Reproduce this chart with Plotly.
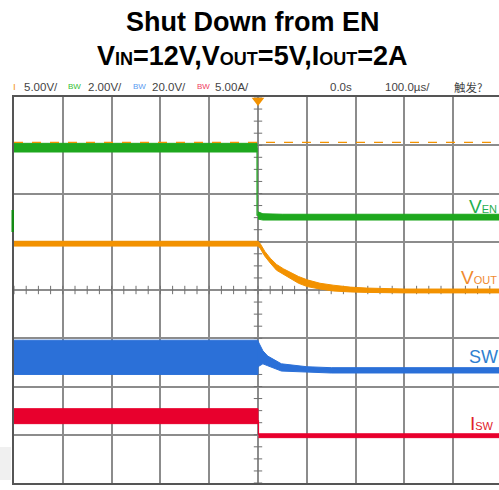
import numpy as np
import plotly.graph_objects as go

# ---------------- data (screen divisions; time 100us/div, trigger at t=0) ----------------
# V_EN (green)
EN_PRE_T = [-5.0, -0.02]
EN_PRE_UP = [3.04, 3.04]
EN_PRE_LO = [2.86, 2.86]
EN_EDGE_T = [-0.02, -0.02, 0.0]
EN_EDGE_V = [2.95, 1.55, 1.55]
EN_POST_T = [0.0, 0.1, 0.5, 1.0, 4.94]
EN_POST_UP = [1.62, 1.58, 1.57, 1.57, 1.57]
EN_POST_LO = [1.47, 1.45, 1.45, 1.45, 1.45]

# V_OUT (orange)
VOUT_T = [-5.0, 0.0, 0.04, 0.14, 0.25, 0.38, 0.52, 0.66, 0.83, 1.01, 1.27, 1.54, 1.89, 2.23, 2.56, 3.0, 4.94]
VOUT_UP = [1.01, 1.01, 0.97, 0.80, 0.66, 0.53, 0.44, 0.36, 0.28, 0.21, 0.14, 0.10, 0.06, 0.04, 0.03, 0.02, 0.02]
VOUT_LO = [0.91, 0.91, 0.87, 0.70, 0.56, 0.41, 0.32, 0.24, 0.14, 0.07, 0.02, -0.02, -0.04, -0.05, -0.06, -0.06, -0.06]

# trigger level (orange dashed)
TRIG_LEVEL = 3.06

# SW (blue)
SW_PRE_T = [-5.0, 0.0]
SW_PRE_UP = [-1.04, -1.04]
SW_PRE_LO = [-1.75, -1.75]
SW_POST_T = [0.0, 0.1, 0.2, 0.48, 1.0, 1.5, 4.94]
SW_POST_UP = [-1.06, -1.26, -1.37, -1.53, -1.59, -1.61, -1.61]
SW_POST_LO = [-1.59, -1.53, -1.57, -1.68, -1.70, -1.72, -1.72]

# I_SW (red)
ISW_PRE_T = [-5.0, 0.0]
ISW_PRE_UP = [-2.46, -2.46]
ISW_PRE_LO = [-2.77, -2.77]
ISW_EDGE_T = [0.01, 0.01]
ISW_EDGE_V = [-2.7, -3.0]
ISW_POST_T = [0.01, 4.94]
ISW_POST_UP = [-2.98, -2.98]
ISW_POST_LO = [-3.06, -3.06]

HEADER_LABELS = ["5.00V/", "2.00V/", "20.0V/", "5.00A/", "0.0s", "100.0\u00b5s/", "触发?"]

GREEN = "#1ea81e"
ORANGE = "#f39200"
BLUE = "#2b70d8"
RED = "#e8002d"

W, H = 499, 490
L, T, B = 14, 97, 483
R = 499
XR = [-5.0, -5.0 + (R - L) / 48.8]


def px(x, y):
    return (x - L) / (R - L), (B - y) / (B - T)


fig = go.Figure()


def band(t, up, lo, color):
    xs = list(t) + list(t)[::-1]
    ys = list(up) + list(lo)[::-1]
    fig.add_trace(go.Scatter(x=xs, y=ys, fill="toself", fillcolor=color, mode="lines",
                             line=dict(color=color, width=1), hoverinfo="skip", showlegend=False))


def line(t, v, color, width=1.2, dash=None):
    fig.add_trace(go.Scatter(x=t, y=v, mode="lines", line=dict(color=color, width=width, dash=dash),
                             hoverinfo="skip", showlegend=False))


# center crosshair minor ticks
tx = np.arange(-5, 5.01, 0.25)
fig.add_trace(go.Scatter(x=tx, y=np.zeros_like(tx), mode="markers",
                         marker=dict(symbol="line-ns", size=6, line=dict(color="#707070", width=1)),
                         hoverinfo="skip", showlegend=False))
ty = np.arange(-4, 4.01, 0.25)
fig.add_trace(go.Scatter(x=np.zeros_like(ty), y=ty, mode="markers",
                         marker=dict(symbol="line-ew", size=6, line=dict(color="#707070", width=1)),
                         hoverinfo="skip", showlegend=False))

# traces
band(EN_PRE_T, EN_PRE_UP, EN_PRE_LO, GREEN)
line(EN_EDGE_T, EN_EDGE_V, GREEN, 1.2)
band(EN_POST_T, EN_POST_UP, EN_POST_LO, GREEN)
line([XR[0], XR[1]], [TRIG_LEVEL, TRIG_LEVEL], ORANGE, 1.2, "dash")
band(VOUT_T, VOUT_UP, VOUT_LO, ORANGE)
band(SW_PRE_T, SW_PRE_UP, SW_PRE_LO, BLUE)
band(SW_POST_T, SW_POST_UP, SW_POST_LO, BLUE)
band(ISW_PRE_T, ISW_PRE_UP, ISW_PRE_LO, RED)
line(ISW_EDGE_T, ISW_EDGE_V, RED, 1.2)
band(ISW_POST_T, ISW_POST_UP, ISW_POST_LO, RED)

# trigger position marker
fig.add_trace(go.Scatter(x=[0], y=[3.93], mode="markers", cliponaxis=False,
                         marker=dict(symbol="triangle-down", size=11, color=ORANGE),
                         hoverinfo="skip", showlegend=False))

# channel markers at left
for yv, col, sym in [(2.55, "#5fd05f", "triangle-right"), (0.0, ORANGE, "triangle-right"),
                     (-1.66, BLUE, "triangle-right"), (-2.98, RED, "triangle-right")]:
    fig.add_trace(go.Scatter(x=[XR[0] - 0.04], y=[yv], mode="markers", cliponaxis=False,
                             marker=dict(symbol=sym, size=5, color=col),
                             hoverinfo="skip", showlegend=False))

shapes = []
# dark green ground bar
x0, _ = px(11.5, 0)
x1, _ = px(14, 0)
_, y0 = px(0, 232)
_, y1 = px(0, 210)
shapes.append(dict(type="rect", xref="paper", yref="paper", x0=x0, x1=x1, y0=y0, y1=y1,
                   fillcolor="#138a13", line=dict(width=0)))
# grey bottom-left area
x0, _ = px(0, 0)
x1, _ = px(11, 0)
_, y0 = px(0, 480)
_, y1 = px(0, 447)
shapes.append(dict(type="rect", xref="paper", yref="paper", x0=x0, x1=x1, y0=y0, y1=y1,
                   fillcolor="#f0f0f0", line=dict(width=0), layer="below"))

ann = []
TITLE_FONT = "Liberation Sans, Arial"


def text(xp, yp, s, size, color, anchor="left", family="Liberation Sans, Arial", yanchor="middle"):
    a, b = px(xp, yp)
    ann.append(dict(x=a, y=b, xref="paper", yref="paper", text=s, showarrow=False,
                    xanchor=anchor, yanchor=yanchor, font=dict(size=size, color=color, family=family)))


text(252, 22, "<b>Shut Down from EN</b>", 27, "black", "center", TITLE_FONT)
sub = "<span style='font-size:18px'>%s</span>"
text(252, 56, "<b>V" + sub % "IN" + "=12V,V" + sub % "OUT" + "=5V,I" + sub % "OUT" + "=2A</b>",
     27, "black", "center", TITLE_FONT)

# header
HF = "Liberation Sans, Arial"
HC = "#444"
text(11, 87, "ı", 10, ORANGE, "left", HF)
text(22, 87, HEADER_LABELS[0], 11.5, HC, "left", HF)
text(66, 87, "BW", 8, "#33c033", "left", HF)
text(86, 87, HEADER_LABELS[1], 11.5, HC, "left", HF)
text(131, 87, "BW", 8, "#5a9af0", "left", HF)
text(150, 87, HEADER_LABELS[2], 11.5, HC, "left", HF)
text(195, 87, "BW", 8, "#f04060", "left", HF)
text(213, 87, HEADER_LABELS[3], 11.5, HC, "left", HF)
text(328, 87, HEADER_LABELS[4], 11.5, HC, "left", HF)
text(383, 87, HEADER_LABELS[5], 11.5, HC, "left", HF)
text(452, 87, HEADER_LABELS[6], 11.5, HC, "left", "Noto Sans CJK SC")

# trace labels
LS = "<span style='font-size:11px'>%s</span>"
LF = "Liberation Sans, Arial"
text(467, 206, "V" + LS % "EN", 19, "#1fae4f", "left", LF)
text(459, 277, "V" + LS % "OUT", 19, "#f08a30", "left", LF)
text(467, 357, "SW", 18, "#2f7fd0", "left", LF)
text(468, 423, "I" + LS % "SW", 19, "#e0202a", "left", LF)

GRID = "#8c8c8c"
fig.update_layout(
    width=W, height=H, margin=dict(l=L, r=0, t=T, b=H - B),
    paper_bgcolor="white", plot_bgcolor="white",
    shapes=shapes, annotations=ann, showlegend=False,
    xaxis=dict(range=XR, tick0=0, dtick=1, showgrid=True, gridcolor=GRID, gridwidth=1.5,
               zeroline=True, zerolinecolor=GRID, zerolinewidth=1.5,
               showticklabels=False, ticks="", showline=True, mirror=True,
               linecolor="#555", linewidth=1.5, fixedrange=True),
    yaxis=dict(range=[-4, 4], tick0=0, dtick=1, showgrid=True, gridcolor=GRID, gridwidth=1.5,
               zeroline=True, zerolinecolor=GRID, zerolinewidth=1.5,
               showticklabels=False, ticks="", showline=True, mirror=False,
               linecolor="#555", linewidth=1.5, fixedrange=True),
)

fig.write_html("out.html", config={"displayModeBar": False},
               post_script="document.body.style.margin='0px';")
